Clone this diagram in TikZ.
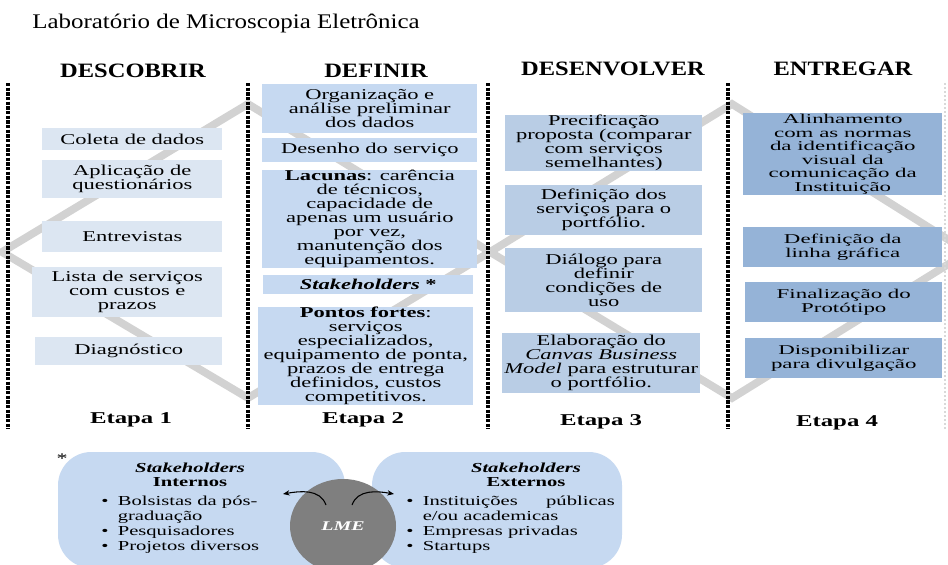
\documentclass[tikz,border=0pt]{standalone}
\usepackage{fontspec}
\setmainfont{Liberation Serif}[FakeStretch=1.5]
\newfontfamily\hdrfont{Liberation Serif}[FakeStretch=1.2]
\newfontfamily\widefont{Liberation Serif}[FakeStretch=1.7]
\usetikzlibrary{arrows.meta,shapes.geometric}
\definecolor{cA}{HTML}{DCE6F2}
\definecolor{cB}{HTML}{C6D9F1}
\definecolor{cC}{HTML}{B9CDE5}
\definecolor{cD}{HTML}{95B3D7}
\definecolor{blobc}{HTML}{C6D9F1}
\definecolor{zigc}{HTML}{D2D2D2}
\definecolor{lmeg}{HTML}{7F7F7F}
\begin{document}
\begin{tikzpicture}[x=0.75pt,y=-0.75pt,
  bw/.style={minimum width=#1*0.75pt},
  bh/.style={minimum height=#1*0.75pt},
  box/.style={inner sep=0pt, anchor=north west, align=center, font=\fontsize{11.25}{10.5}\selectfont},
  boxA/.style={box, fill=cA},
  boxB/.style={box, fill=cB},
  boxC/.style={box, fill=cC},
  boxD/.style={box, fill=cD, font=\widefont\fontsize{10.1}{10.1}\selectfont},
  hdr/.style={inner sep=0pt, font=\hdrfont\fontsize{15.3}{16}\selectfont\bfseries},
  etapa/.style={inner sep=0pt, font=\fontsize{12.4}{13}\selectfont\bfseries},
  dotline/.style={line width=2.6pt, dash pattern=on 2.4pt off 1.1pt, black},
  zig/.style={line width=5.8pt, zigc, line join=miter},
  blob/.style={fill=blobc, rounded corners=25pt},
  bhead/.style={inner sep=0pt, align=center, font=\fontsize{10.3}{10.5}\selectfont\bfseries},
  blist/.style={inner sep=0pt, anchor=north west, font=\fontsize{10.3}{11.25}\selectfont},
  arr/.style={-{Stealth[length=5pt,width=4pt]}, line width=0.8pt, black}
]
\useasboundingbox (0,0) rectangle (948,564);
\fill[white] (0,0) rectangle (948,564);

% background double diamond
\begin{scope}
\clip (0,0) rectangle (948,564);
\draw[zig] (2,252) -- (248,104) -- (490,252) -- (248,398) -- cycle;
\draw[zig] (490,252) -- (732,104) -- (968,252) -- (732,398) -- cycle;
\end{scope}

% title
\node[inner sep=0pt, anchor=base west, font=\hdrfont\fontsize{15.6}{16}\selectfont] (title) at (32,28) {Laboratório de Microscopia Eletrônica};

% headers
\node[hdr] (h1) at (133,71) {DESCOBRIR};
\node[hdr] (h2) at (376,71) {DEFINIR};
\node[hdr] (h3) at (613,69) {DESENVOLVER};
\node[hdr] (h4) at (843,69) {ENTREGAR};

% dotted separators
\draw[dotline] (8,83) -- (8,429);
\draw[dotline] (248,83) -- (248,429);
\draw[dotline] (488,83) -- (488,429);
\draw[dotline] (728,83) -- (728,429);
\draw[line width=1.2pt, dash pattern=on 1.5pt off 1.5pt, gray!30] (945,83) -- (945,429);

% column 1
\node[boxA, bw=180, bh=22] (c1) at (42,128) {Coleta de dados};
\node[boxA, bw=180, bh=38] (c2) at (42,160) {Aplicação de\\questionários};
\node[boxA, bw=180, bh=31] (c3) at (42,221) {Entrevistas};
\node[boxA, bw=190, bh=50] (c4) at (32,267) {Lista de serviços\\com custos e\\prazos};
\node[boxA, bw=187, bh=28] (c5) at (35,337) {Diagnóstico};

% column 2
\node[boxB, bw=215, bh=49] (d1) at (262,84) {Organização e\\análise preliminar\\dos dados};
\node[boxB, bw=215, bh=24] (d2) at (262,138) {Desenho do serviço};
\node[boxB, bw=215, bh=98] (d3) at (262,170) {\textbf{Lacunas}: carência\\de técnicos,\\capacidade de\\apenas um usuário\\por vez,\\manutenção dos\\equipamentos.};
\node[boxB, bw=210, bh=19] (d4) at (263,275) {\textbf{\textit{Stakeholders} *}};
\node[boxB, bw=215, bh=98] (d5) at (258,307) {\textbf{Pontos fortes}:\\serviços\\especializados,\\equipamento de ponta,\\prazos de entrega\\definidos, custos\\competitivos.};

% column 3
\node[boxC, bw=197, bh=55] (e1) at (505,115) {Precificação\\proposta (comparar\\com serviços\\semelhantes)};
\node[boxC, bw=197, bh=50] (e2) at (505,185) {Definição dos\\serviços para o\\portfólio.};
\node[boxC, bw=197, bh=64] (e3) at (505,248) {Diálogo para\\definir\\condições de\\uso};
\node[boxC, bw=198, bh=60] (e4) at (502,333) {Elaboração do\\\textit{Canvas Business}\\\textit{Model} para estruturar\\o portfólio.};

% column 4
\node[boxD, bw=199, bh=82] (f1) at (743,113) {Alinhamento\\com as normas\\da identificação\\visual da\\comunicação da\\Instituição};
\node[boxD, bw=199, bh=40] (f2) at (743,227) {Definição da\\linha gráfica};
\node[boxD, bw=197, bh=40] (f3) at (745,282) {Finalização do\\Protótipo};
\node[boxD, bw=197, bh=40] (f4) at (745,338) {Disponibilizar\\para divulgação};

% stage labels
\node[etapa] (s1) at (131,420) {Etapa 1};
\node[etapa] (s2) at (363,420) {Etapa 2};
\node[etapa] (s3) at (601,422) {Etapa 3};
\node[etapa] (s4) at (837,423) {Etapa 4};

% bottom: stakeholders
\node[inner sep=0pt, font=\fontsize{11}{11}\selectfont] (star) at (62,459) {*};
\begin{scope}
\clip (0,0) rectangle (948,564);
\fill[blob] (58,452) rectangle (345,568);
\fill[blob] (372,452) rectangle (622,568);
\end{scope}
\node[bhead] (hi) at (190,475) {\textit{Stakeholders}\\Internos};
\node[bhead] (he) at (526,475) {\textit{Stakeholders}\\Externos};
\node[blist] (li) at (101,495) {\begin{tabular}{@{}l@{\hspace{7pt}}l@{}}
\textbullet & Bolsistas da pós-\\
 & graduação\\
\textbullet & Pesquisadores\\
\textbullet & Projetos diversos
\end{tabular}};
\node[blist] (le) at (406,495) {\begin{tabular}{@{}l@{\hspace{7pt}}l@{}}
\textbullet & \makebox[144pt][l]{Instituições\hfill públicas}\\
 & e/ou academicas\\
\textbullet & Empresas privadas\\
\textbullet & Startups
\end{tabular}};
\begin{scope}
\clip (0,0) rectangle (948,564);
\node[ellipse, fill=lmeg, minimum width=106*0.75pt, minimum height=94*0.75pt, inner sep=0pt] (lme) at (343,526) {};
\end{scope}
\node[inner sep=0pt, text=white, font=\fontsize{10}{10}\selectfont\bfseries\itshape] (lmet) at (lme.center) {LME};
\coordinate (ls) at (326,505);
\coordinate (lend) at (283,494);
\coordinate (rs) at (352,505);
\coordinate (rend) at (394,494);
\draw[arr] (ls) to[out=110, in=10] (lend);
\draw[arr] (rs) to[out=70, in=170] (rend);
\end{tikzpicture}
\end{document}
